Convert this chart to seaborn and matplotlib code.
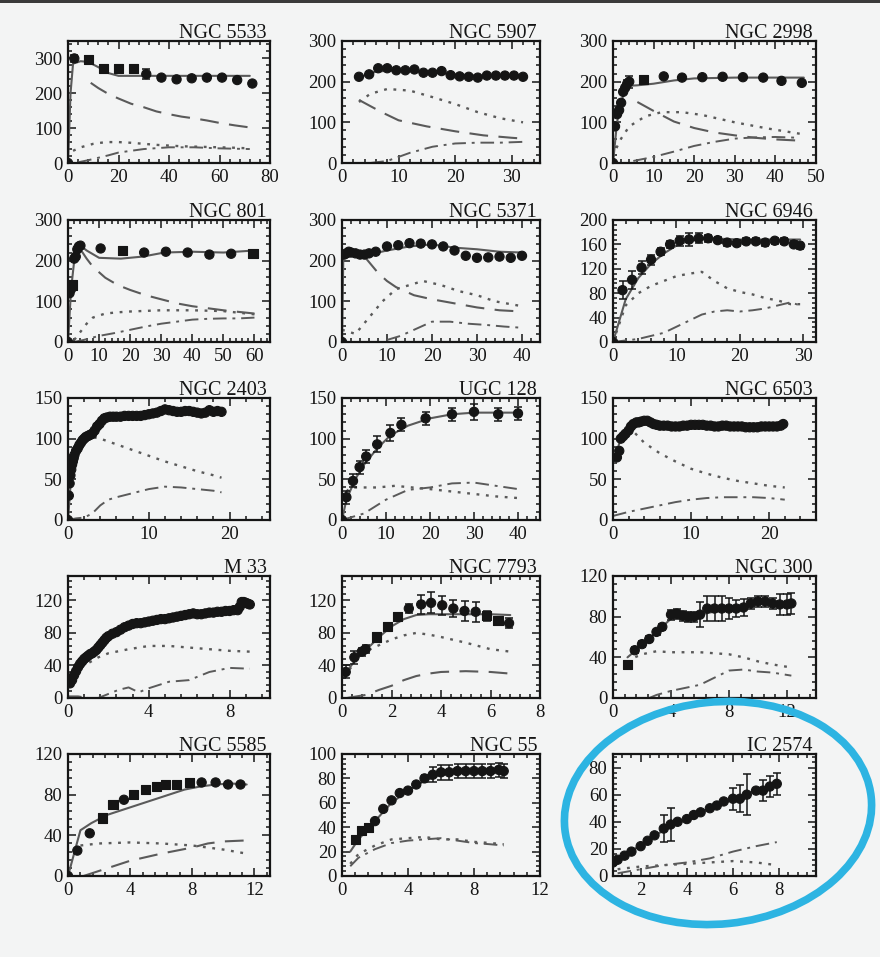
import numpy as np
import pandas as pd
import matplotlib
matplotlib.use("Agg")
import matplotlib.pyplot as plt
import seaborn as sns
from matplotlib.ticker import MultipleLocator, AutoMinorLocator
from matplotlib.patches import Ellipse

# ------------------------------------------------------------------
# Rotation curves: observed points (R in kpc, V in km/s), error bars,
# and the mass-model components (total, long-dashed, dotted, dash-dot).
# ------------------------------------------------------------------

# NGC 5533
N5533_R = [0, 2.5, 8, 14, 20, 26, 31, 37, 43, 49, 55, 61, 67, 73]
N5533_V = [0, 300, 298, 272, 272, 272, 255, 245, 240, 243, 245, 245, 238, 228]
N5533_E = [0, 10, 8, 10, 8, 8, 15, 5, 5, 5, 5, 5, 5, 5]
N5533_SQ = [2, 3, 4, 5]
N5533_TOT = ([0, 1, 2, 5, 8, 12, 16, 20, 30, 40, 50, 60, 72],
             [0, 200, 285, 292, 290, 275, 258, 250, 250, 250, 250, 250, 250])
N5533_LONG = ([9, 12, 16, 20, 25, 30, 35, 40, 45, 50, 55, 60, 66, 72],
              [230, 215, 198, 185, 170, 160, 148, 140, 133, 128, 122, 115, 108, 102])
N5533_DOT = ([2, 5, 10, 15, 20, 25, 30, 35, 40, 45, 50, 55, 60, 65, 72],
             [35, 45, 55, 60, 60, 58, 55, 52, 50, 48, 47, 46, 45, 44, 42])
N5533_DD = ([4, 8, 12, 16, 20, 25, 30, 40, 50, 60, 72],
            [2, 8, 15, 22, 30, 35, 40, 45, 45, 42, 40])

# NGC 5907
N5907_R = [3, 4.8, 6.4, 8, 9.6, 11.2, 12.8, 14.4, 16, 17.6, 19.2, 20.8, 22.4, 24, 25.6, 27.2, 28.8, 30.4, 32]
N5907_V = [212, 218, 233, 233, 228, 228, 230, 222, 222, 226, 216, 213, 212, 210, 215, 215, 215, 215, 212]
N5907_E = [0] * 19
N5907_SQ = []
N5907_TOT = ([3, 6, 10, 15, 20, 25, 32], [210, 225, 228, 223, 218, 214, 213])
N5907_LONG = ([3, 7, 10, 15, 20, 25, 30, 32], [155, 125, 105, 90, 78, 68, 62, 60])
N5907_DOT = ([3, 5, 8, 12, 16, 20, 24, 28, 32], [150, 170, 182, 178, 162, 145, 125, 110, 100])
N5907_DD = ([5, 8, 12, 16, 20, 24, 28, 32], [0, 5, 25, 40, 48, 50, 50, 52])

# NGC 2998
N2998_R = [0, 0.5, 1, 1.5, 2, 2.5, 3, 3.5, 4, 7.5, 12.5, 17, 22, 27, 32, 37, 41.5, 46.5]
N2998_V = [0, 90, 120, 130, 148, 175, 185, 195, 200, 205, 213, 210, 211, 212, 211, 210, 202, 197]
N2998_E = [0, 5, 5, 5, 5, 5, 5, 8, 15, 10, 4, 4, 4, 4, 4, 4, 4, 4]
N2998_SQ = [9]
N2998_TOT = ([0, 1, 2, 3, 4, 6, 10, 15, 20, 30, 40, 47],
             [0, 100, 150, 180, 190, 191, 195, 203, 208, 210, 210, 210])
N2998_LONG = ([6, 10, 15, 20, 25, 30, 35, 40, 46], [150, 128, 102, 86, 75, 68, 62, 58, 55])
N2998_DOT = ([0, 1, 2, 4, 8, 12, 17, 22, 30, 38, 46], [15, 40, 60, 90, 115, 125, 125, 118, 100, 85, 72])
N2998_DD = ([5, 10, 15, 20, 25, 30, 35, 40, 46], [5, 15, 28, 42, 52, 60, 63, 64, 62])

# NGC 801
N801_R = [0, 0.5, 1, 1.5, 2, 2.5, 3, 3.5, 4, 10.5, 17.5, 24.5, 31.5, 38.5, 45.5, 52.5, 59.5]
N801_V = [0, 120, 130, 140, 205, 210, 228, 235, 237, 230, 225, 220, 222, 220, 215, 217, 218]
N801_E = [0] * 17
N801_SQ = [3, 10, 16]
N801_TOT = ([0, 1, 2, 3, 4, 6, 10, 17, 24, 31, 40, 50, 60],
            [0, 130, 200, 230, 237, 225, 207, 205, 210, 220, 222, 220, 225])
N801_LONG = ([4, 6, 8, 12, 16, 20, 25, 30, 35, 40, 45, 50, 55, 60],
             [228, 205, 185, 158, 140, 128, 115, 105, 95, 88, 83, 78, 74, 70])
N801_DOT = ([2, 4, 6, 8, 12, 16, 20, 30, 40, 50, 55, 60], [5, 25, 45, 60, 70, 73, 75, 78, 78, 76, 72, 68])
N801_DD = ([2, 5, 10, 15, 20, 25, 30, 35, 40, 45, 50, 55, 60],
           [0, 5, 15, 22, 30, 38, 45, 50, 55, 57, 58, 58, 60])

# NGC 5371
N5371_R = [0, 0.5, 1, 1.5, 2, 3, 4, 5, 6, 7.5, 10, 12.5, 15, 17.5, 20, 22.5, 25, 27.5, 30, 32.5, 35, 37.5, 40]
N5371_V = [0, 215, 218, 222, 220, 218, 215, 215, 218, 222, 235, 238, 243, 242, 240, 235, 225, 212, 207, 208, 210, 207, 212]
N5371_E = [0] * 23
N5371_SQ = []
N5371_TOT = ([0, 0.3, 2, 4, 6, 10, 15, 20, 25, 30, 35, 40],
             [0, 215, 228, 218, 215, 225, 235, 240, 232, 228, 222, 220])
N5371_LONG = ([5, 8, 10, 12, 16, 20, 25, 30, 35, 40], [210, 170, 150, 135, 115, 105, 95, 85, 78, 75])
N5371_DOT = ([0, 3, 6, 9, 12, 15, 18, 22, 26, 30, 34, 40],
             [30, 20, 60, 100, 130, 140, 150, 140, 125, 115, 100, 88])
N5371_DD = ([10, 13, 16, 20, 24, 28, 32, 36, 40], [5, 15, 30, 50, 50, 45, 42, 38, 35])

# NGC 6946
N6946_R = [0, 1.5, 3, 4.5, 6, 7.5, 9, 10.5, 12, 13.5, 15, 16.5, 18, 19.5, 21, 22.5, 24, 25.5, 27, 28.5, 29.5]
N6946_V = [0, 85, 102, 122, 135, 148, 160, 166, 168, 170, 170, 167, 163, 162, 165, 165, 163, 166, 165, 160, 158]
N6946_E = [0, 15, 15, 10, 8, 6, 6, 8, 10, 8, 6, 5, 5, 5, 5, 5, 5, 5, 5, 5, 5]
N6946_SQ = []
N6946_TOT = ([0, 2, 4, 6, 8, 10, 12, 15, 20, 25, 29.5], [0, 70, 105, 128, 145, 158, 166, 170, 168, 168, 168])
N6946_LONG = ([], [])
N6946_DOT = ([0, 2, 4, 6, 8, 10, 12, 14, 16, 18, 20, 22, 24, 26, 28, 29.5],
             [0, 60, 80, 92, 100, 108, 112, 115, 100, 88, 82, 78, 72, 68, 62, 62])
N6946_DD = ([0, 4, 8, 10, 12, 14, 16, 18, 20, 22, 24, 26, 28, 29.5],
            [0, 5, 15, 25, 35, 45, 50, 52, 50, 52, 55, 60, 65, 60])

# NGC 2403
N2403_R = [0, 0.1, 0.2, 0.3, 0.4, 0.5, 0.6, 0.7, 0.8, 1.0, 1.2, 1.4, 1.6, 1.8, 2.0, 2.2, 2.4, 2.6, 2.8,
           3.0, 3.3, 3.6, 3.9, 4.2, 4.5, 4.8, 5.2, 5.6, 6.0, 6.5, 7.0, 7.5, 8.0, 8.5, 9.0, 9.5, 10.0,
           10.5, 11.0, 11.5, 12.0, 12.5, 13.0, 13.5, 14.0, 14.5, 15.0, 15.5, 16.0, 16.5, 17.0, 17.5,
           18.0, 18.5, 19.0]
N2403_V = [0, 30, 45, 55, 62, 68, 72, 76, 80, 85, 88, 92, 95, 98, 100, 102, 103, 104, 105,
           106, 110, 115, 118, 122, 125, 126, 127, 127, 127, 127, 128, 128, 128, 128, 128, 129, 130,
           131, 132, 134, 136, 135, 134, 133, 133, 134, 134, 133, 132, 131, 132, 135,
           133, 134, 133]
N2403_E = [0] * 55
N2403_SQ = []
N2403_TOT = ([0, 0.5, 1, 2, 3, 4, 5, 6, 8, 10, 12, 14, 16, 19],
             [0, 68, 85, 100, 106, 118, 126, 127, 128, 130, 135, 133, 132, 133])
N2403_LONG = ([], [])
N2403_DOT = ([1, 2, 3, 4, 6, 8, 10, 12, 14, 16, 18, 19], [95, 100, 102, 100, 93, 86, 79, 72, 66, 60, 55, 52])
N2403_DD = ([0, 1, 2, 3, 4, 5, 6, 8, 10, 12, 14, 16, 18, 19],
            [0, 2, 3, 8, 18, 25, 28, 33, 38, 41, 40, 38, 36, 34])

# UGC 128
U128_R = [0, 1, 2.5, 4, 5.5, 8, 11, 13.5, 19, 25, 30, 35.5, 40]
U128_V = [0, 28, 48, 65, 78, 93, 107, 117, 125, 130, 133, 130, 131]
U128_E = [0, 8, 8, 8, 8, 10, 10, 8, 8, 8, 10, 8, 8]
U128_SQ = []
U128_TOT = ([0, 1, 3, 5, 8, 11, 15, 20, 25, 30, 35, 40], [0, 25, 50, 68, 88, 104, 116, 125, 130, 132, 132, 132])
U128_LONG = ([], [])
U128_DOT = ([1, 2, 4, 8, 12, 16, 20, 25, 30, 35, 40], [35, 40, 40, 40, 42, 40, 38, 35, 32, 29, 27])
U128_DD = ([0, 5, 10, 15, 20, 25, 30, 35, 40], [0, 8, 25, 37, 40, 45, 46, 42, 38])

# NGC 6503
N6503_R = [0.5, 0.8, 1, 1.3, 1.6, 2, 2.3, 2.6, 3, 3.3, 3.6, 4, 4.4, 4.8, 5.2, 5.6, 6, 6.5, 7, 7.5, 8, 8.5,
           9, 9.5, 10, 10.5, 11, 11.5, 12, 12.5, 13, 13.5, 14, 14.5, 15, 15.5, 16, 16.5, 17, 17.5, 18,
           18.5, 19, 19.5, 20, 20.5, 21, 21.5, 21.8]
N6503_V = [77, 85, 100, 103, 106, 110, 115, 118, 120, 120, 121, 122, 122, 120, 118, 117, 116, 116, 116, 115,
           115, 115, 116, 116, 117, 117, 117, 117, 116, 116, 115, 115, 116, 116, 115, 115, 115, 115, 114,
           114, 114, 114, 115, 115, 115, 115, 115, 116, 118]
N6503_E = [0] * 49
N6503_SQ = []
N6503_TOT = ([0, 1, 2, 2.5, 3, 4, 6, 10, 15, 20, 22], [70, 100, 115, 120, 120, 118, 116, 116, 115, 115, 116])
N6503_LONG = ([], [])
N6503_DOT = ([2, 3, 4, 6, 8, 10, 12, 14, 16, 18, 20, 22], [115, 105, 95, 82, 72, 63, 57, 52, 48, 45, 42, 40])
N6503_DD = ([0, 2, 4, 6, 8, 10, 12, 14, 16, 18, 20, 22], [5, 10, 14, 18, 22, 25, 27, 28, 28, 28, 27, 25])

# M 33
M33_R = [0.1, 0.2, 0.3, 0.4, 0.5, 0.6, 0.7, 0.8, 0.9, 1.0, 1.1, 1.2, 1.3, 1.4, 1.5, 1.6, 1.7, 1.8, 1.9, 2.0,
         2.2, 2.4, 2.6, 2.8, 3.0, 3.2, 3.4, 3.6, 3.8, 4.0, 4.2, 4.4, 4.6, 4.8, 5.0, 5.2, 5.4, 5.6, 5.8,
         6.0, 6.2, 6.4, 6.6, 6.8, 7.0, 7.2, 7.4, 7.6, 7.8, 8.0, 8.2, 8.4,
         8.5, 8.6, 8.7, 8.8, 8.9, 9.0]
M33_V = [18, 22, 28, 33, 38, 42, 45, 48, 50, 52, 54, 55, 57, 59, 62, 65, 68, 71, 74, 76,
         79, 81, 84, 87, 89, 91, 92, 92, 93, 94, 95, 96, 97, 97, 98, 99, 100, 101, 102,
         103, 104, 103, 103, 104, 105, 105, 106, 106, 107, 107, 108, 108,
         112, 118, 118, 117, 116, 115]
M33_E = [0] * 58
M33_SQ = []
M33_TOT = ([], [])
M33_LONG = ([], [])
M33_DOT = ([0.3, 0.8, 1.5, 2, 3, 4, 5, 6, 7, 8, 9], [30, 40, 50, 55, 60, 64, 64, 62, 60, 58, 57])
M33_DD = ([0, 0.5, 1, 1.5, 2, 2.5, 3, 3.5, 4, 5, 6, 7, 8, 9], [2, 2, 0, 0, 5, 10, 13, 7, 12, 20, 22, 32, 37, 36])

# NGC 7793
N7793_R = [0.15, 0.5, 0.8, 0.95, 1.4, 1.85, 2.25, 2.7, 3.2, 3.6, 4.05, 4.5, 4.95, 5.4, 5.85, 6.3, 6.75]
N7793_V = [32, 50, 57, 60, 75, 88, 100, 110, 115, 117, 114, 110, 107, 106, 101, 95, 92]
N7793_E = [8, 8, 5, 5, 4, 4, 4, 6, 12, 13, 12, 10, 12, 12, 6, 5, 6]
N7793_SQ = [4, 5, 6, 14, 15]
N7793_TOT = ([0, 0.5, 1, 1.5, 2, 2.5, 3, 3.5, 4, 5, 6, 6.8], [25, 45, 60, 75, 88, 97, 102, 103, 103, 103, 103, 102])
N7793_LONG = ([0.2, 0.6, 1, 1.5, 2, 2.5, 3, 3.5, 4, 5, 6, 6.8], [0, 2, 4, 10, 15, 22, 27, 30, 32, 33, 32, 30])
N7793_DOT = ([0.3, 0.8, 1.5, 2, 2.5, 3, 3.5, 4, 5, 6, 6.8], [35, 55, 65, 72, 77, 80, 78, 75, 68, 60, 57])
N7793_DD = ([], [])

# NGC 300
N300_R = [1, 1.5, 2, 2.5, 3, 3.4, 4, 4.4, 4.8, 5.2, 5.6, 6, 6.5, 7, 7.5, 8, 8.5, 9, 9.5, 10, 10.5, 11, 11.5, 12, 12.3]
N300_V = [33, 47, 53, 58, 65, 70, 82, 83, 81, 80, 80, 82, 88, 88, 88, 88, 88, 89, 93, 95, 95, 93, 92, 92, 93]
N300_E = [3, 3, 3, 3, 3, 3, 5, 5, 5, 5, 5, 12, 12, 12, 12, 10, 8, 8, 5, 5, 5, 5, 10, 10, 10]
N300_SQ = [0]
N300_TOT = ([1, 2, 3, 4, 5, 6, 7, 8, 9, 10, 11, 12.3], [40, 52, 65, 78, 80, 82, 85, 87, 90, 93, 94, 94])
N300_LONG = ([], [])
N300_DOT = ([1, 1.5, 2, 3, 4, 5, 6, 7, 8, 9, 10, 11, 12.3], [35, 40, 43, 46, 45, 45, 45, 44, 43, 40, 36, 33, 30])
N300_DD = ([2.5, 3, 3.5, 4, 5, 6, 7, 8, 9, 10, 11, 12.3], [0, 3, 5, 7, 10, 13, 20, 27, 28, 26, 25, 22])

# NGC 5585
N5585_R = [0, 0.6, 1.4, 2.2, 2.9, 3.6, 4.2, 5.0, 5.7, 6.3, 7.0, 7.8, 8.6, 9.5, 10.3, 11.1]
N5585_V = [0, 25, 42, 57, 70, 75, 80, 85, 88, 90, 90, 92, 92, 92, 90, 90]
N5585_E = [0] * 16
N5585_SQ = [3, 4, 6, 7, 8, 9, 10, 11]
N5585_TOT = ([0, 0.8, 1.5, 2.5, 3.5, 4.5, 5.5, 6.5, 7.5, 8.5, 9.5, 10.5, 11.5],
             [0, 45, 52, 60, 65, 70, 75, 80, 85, 88, 90, 91, 90])
N5585_LONG = ([1, 2, 3, 4, 6, 8, 9, 10, 11.5], [0, 5, 10, 15, 22, 28, 32, 34, 35])
N5585_DOT = ([0.8, 2, 4, 6, 8, 10, 11.5], [30, 32, 33, 32, 30, 26, 22])
N5585_DD = ([], [])

# NGC 55
N55_R = [0.8, 1.2, 1.6, 2.0, 2.5, 3.0, 3.5, 4.0, 4.5, 5.0, 5.5, 6.0, 6.5, 7.0, 7.5, 8.0, 8.5, 9.0, 9.5, 9.8]
N55_V = [30, 37, 40, 45, 55, 62, 68, 70, 75, 80, 83, 85, 85, 86, 86, 86, 86, 86, 87, 86]
N55_E = [0, 0, 0, 0, 0, 0, 0, 0, 0, 3, 6, 6, 6, 6, 6, 6, 6, 6, 6, 6]
N55_SQ = [0, 1, 2]
N55_TOT = ([0.5, 1, 2, 3, 4, 5, 6, 7, 8, 9, 9.8], [20, 30, 45, 60, 70, 78, 83, 85, 86, 86, 86])
N55_LONG = ([], [])
N55_DOT = ([0.5, 1, 2, 3, 4, 5, 6, 7, 8, 9, 9.8], [10, 18, 25, 30, 31, 32, 30, 30, 28, 27, 26])
N55_DD = ([0.5, 1, 2, 3, 4, 5, 6, 7, 8, 9, 9.8], [8, 15, 22, 27, 29, 30, 31, 29, 27, 26, 25])

# IC 2574
I2574_R = [0.8, 1.0, 1.3, 1.6, 2.0, 2.3, 2.6, 3.0, 3.3, 3.6, 4.0, 4.3, 4.6, 5.0, 5.3, 5.6, 6.0, 6.3,
           6.6, 7.0, 7.3, 7.6, 7.9]
I2574_V = [10, 12, 15, 18, 22, 26, 30, 35, 38, 40, 42, 45, 47, 50, 52, 55, 57, 57, 60, 63, 63, 66, 68]
I2574_E = [0, 0, 0, 0, 0, 0, 0, 10, 12, 0, 0, 0, 0, 0, 0, 0, 8, 10, 15, 0, 8, 8, 8]
I2574_SQ = []
I2574_TOT = ([0.8, 1.5, 2.5, 3.5, 4.5, 5.5, 6.5, 7.9], [10, 17, 29, 38, 46, 53, 60, 68])
I2574_LONG = ([], [])
I2574_DOT = ([1, 2, 3, 4, 5, 6, 7, 7.9], [5, 7, 8, 9, 10, 11, 10, 8])
I2574_DD = ([1, 2, 3, 4, 5, 6, 7, 7.9], [2, 5, 8, 10, 13, 18, 22, 25])

# panel name, data, x range, x step, y range, y step
PANELS = [
    ("NGC 5533", N5533_R, N5533_V, N5533_E, N5533_SQ, N5533_TOT, N5533_LONG, N5533_DOT, N5533_DD, (0, 80), 20, (0, 350), 100),
    ("NGC 5907", N5907_R, N5907_V, N5907_E, N5907_SQ, N5907_TOT, N5907_LONG, N5907_DOT, N5907_DD, (0, 35), 10, (0, 300), 100),
    ("NGC 2998", N2998_R, N2998_V, N2998_E, N2998_SQ, N2998_TOT, N2998_LONG, N2998_DOT, N2998_DD, (0, 50), 10, (0, 300), 100),
    ("NGC 801", N801_R, N801_V, N801_E, N801_SQ, N801_TOT, N801_LONG, N801_DOT, N801_DD, (0, 65), 10, (0, 300), 100),
    ("NGC 5371", N5371_R, N5371_V, N5371_E, N5371_SQ, N5371_TOT, N5371_LONG, N5371_DOT, N5371_DD, (0, 44), 10, (0, 300), 100),
    ("NGC 6946", N6946_R, N6946_V, N6946_E, N6946_SQ, N6946_TOT, N6946_LONG, N6946_DOT, N6946_DD, (0, 32), 10, (0, 200), 40),
    ("NGC 2403", N2403_R, N2403_V, N2403_E, N2403_SQ, N2403_TOT, N2403_LONG, N2403_DOT, N2403_DD, (0, 25), 10, (0, 150), 50),
    ("UGC 128", U128_R, U128_V, U128_E, U128_SQ, U128_TOT, U128_LONG, U128_DOT, U128_DD, (0, 45), 10, (0, 150), 50),
    ("NGC 6503", N6503_R, N6503_V, N6503_E, N6503_SQ, N6503_TOT, N6503_LONG, N6503_DOT, N6503_DD, (0, 26), 10, (0, 150), 50),
    ("M 33", M33_R, M33_V, M33_E, M33_SQ, M33_TOT, M33_LONG, M33_DOT, M33_DD, (0, 10), 4, (0, 150), 40),
    ("NGC 7793", N7793_R, N7793_V, N7793_E, N7793_SQ, N7793_TOT, N7793_LONG, N7793_DOT, N7793_DD, (0, 8), 2, (0, 150), 40),
    ("NGC 300", N300_R, N300_V, N300_E, N300_SQ, N300_TOT, N300_LONG, N300_DOT, N300_DD, (0, 14), 4, (0, 120), 40),
    ("NGC 5585", N5585_R, N5585_V, N5585_E, N5585_SQ, N5585_TOT, N5585_LONG, N5585_DOT, N5585_DD, (0, 13), 4, (0, 120), 40),
    ("NGC 55", N55_R, N55_V, N55_E, N55_SQ, N55_TOT, N55_LONG, N55_DOT, N55_DD, (0, 12), 4, (0, 100), 20),
    ("IC 2574", I2574_R, I2574_V, I2574_E, I2574_SQ, I2574_TOT, I2574_LONG, I2574_DOT, I2574_DD, (0.8, 9.6), 2, (0, 90), 20),
]

BG = "#f3f4f4"
INK = "#151515"
MODEL = "#5a5a5a"
FONT = "Liberation Serif"

sns.set_theme(style="ticks")
plt.rcParams["font.family"] = [FONT, "DejaVu Serif"]

fig = plt.figure(figsize=(8.8, 9.57), dpi=100, facecolor=BG)

COL_LEFT = [68, 342, 613]
COL_W = [202, 198, 203]
ROW_TOP = [41, 220, 398, 576, 754]
ROW_H = 122
W, H = 880.0, 957.0

STYLES = {
    "tot": dict(linestyle="-", lw=1.5),
    "long": dict(linestyle=(0, (9, 5)), lw=1.5),
    "dot": dict(linestyle=(0, (1.2, 2.8)), lw=1.7),
    "dd": dict(linestyle=(0, (7, 3, 1.5, 3)), lw=1.4),
}


def draw_curve(ax, xy, key):
    xs, ys = xy
    if len(xs) == 0:
        return
    df = pd.DataFrame({"R": xs, "V": ys})
    sns.lineplot(data=df, x="R", y="V", ax=ax, color=MODEL, sort=False,
                 estimator=None, legend=False, **STYLES[key])


for i, (name, r, v, e, sq, tot, lng, dot, dd, xl, xs, yl, ys) in enumerate(PANELS):
    row, col = divmod(i, 3)
    left = COL_LEFT[col] / W
    bottom = 1 - (ROW_TOP[row] + ROW_H) / H
    ax = fig.add_axes([left, bottom, COL_W[col] / W, ROW_H / H])
    ax.set_facecolor(BG)

    for xy, key in ((lng, "long"), (dot, "dot"), (dd, "dd"), (tot, "tot")):
        draw_curve(ax, xy, key)

    obs = pd.DataFrame({"R": r, "V": v, "E": e})
    obs["shape"] = ["s" if k in sq else "o" for k in range(len(obs))]
    err = obs[obs["E"] > 0]
    if len(err):
        ax.errorbar(err["R"], err["V"], yerr=err["E"], fmt="none", ecolor=INK,
                    elinewidth=1.1, capsize=2.8, capthick=1.1, zorder=3)
    sns.scatterplot(data=obs, x="R", y="V", style="shape", markers={"o": "o", "s": "s"},
                    ax=ax, color=INK, s=44, edgecolor=INK, linewidth=0.8,
                    legend=False, zorder=4)

    ax.set_xlim(*xl)
    ax.set_ylim(*yl)
    ax.xaxis.set_major_locator(MultipleLocator(xs))
    ax.yaxis.set_major_locator(MultipleLocator(ys))
    ax.xaxis.set_minor_locator(AutoMinorLocator(5))
    ax.yaxis.set_minor_locator(AutoMinorLocator(5))
    ax.tick_params(which="both", direction="in", top=True, right=True,
                   colors=INK, width=1.1)
    ax.tick_params(which="major", length=6, labelsize=13.5, pad=4)
    ax.tick_params(which="minor", length=3)
    for lab in ax.get_xticklabels() + ax.get_yticklabels():
        lab.set_fontfamily(FONT)
    for sp in ax.spines.values():
        sp.set_linewidth(1.6)
        sp.set_color(INK)
    ax.set_xlabel("")
    ax.set_ylabel("")
    ax.text(0.985, 0.985, name, transform=ax.transAxes, ha="right", va="bottom",
            fontsize=14.5, color=INK, family=FONT)

# highlight ring round the last panel
ov = fig.add_axes([0, 0, 1, 1], facecolor="none", zorder=10)
ov.set_xlim(0, W)
ov.set_ylim(H, 0)
ov.axis("off")
ov.add_patch(Ellipse((718, 813), 308, 222, angle=-6, fill=False,
                     edgecolor="#2db4e2", lw=5.5))
ov.add_patch(plt.Rectangle((0, 0), W, 3, color="#3a3a3a", lw=0))

fig.savefig("out.png", dpi=100, facecolor=BG)
